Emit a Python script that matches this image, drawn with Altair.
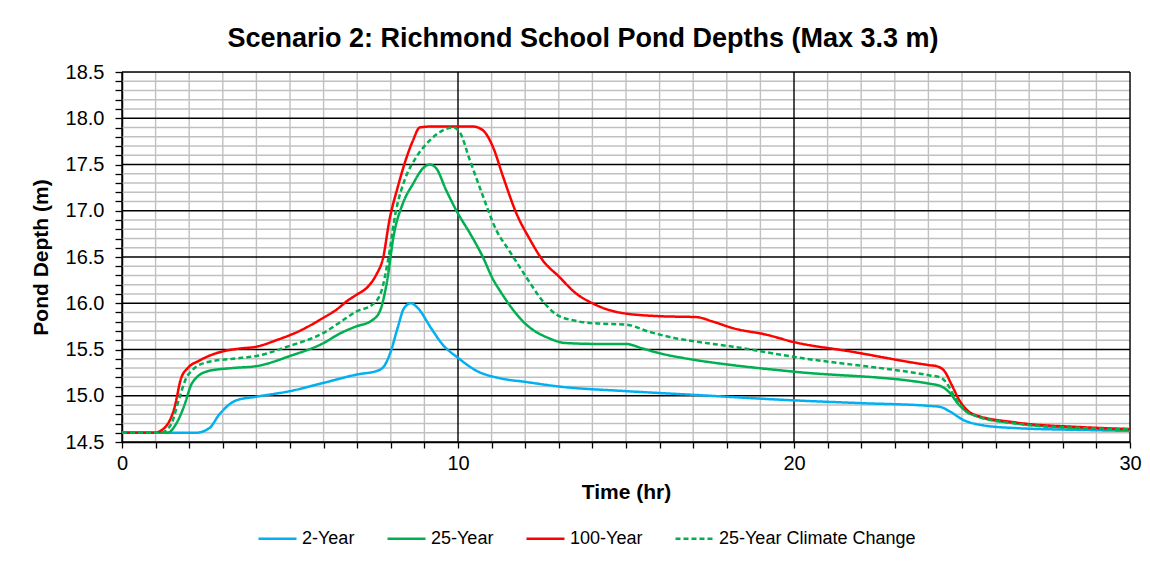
import altair as alt
import pandas as pd

# ---- data ----
two_x = [0, 2.2, 2.6, 2.9, 3.4, 4.0, 5.0, 6.0, 7.0, 7.6, 7.8, 8.0, 8.2, 8.4, 8.6, 8.8, 9.2, 9.55, 10.0, 10.55,
         11.24, 12, 13, 15, 17, 20, 22, 24.04, 24.34, 24.64, 25.03, 25.63, 26.62, 28.6, 30]
two_y = [14.6, 14.6, 14.65, 14.8, 14.95, 14.99, 15.05, 15.14, 15.23, 15.27, 15.32, 15.48, 15.73, 15.95, 16.0,
         15.95, 15.73, 15.55, 15.41, 15.27, 15.19, 15.15, 15.1, 15.05, 15.01, 14.95, 14.92, 14.89, 14.88,
         14.83, 14.74, 14.68, 14.65, 14.63, 14.62]

g_x = [0, 1.36, 1.6, 1.86, 2.06, 2.2, 2.6, 3.3, 4.0, 5.0, 6.0, 6.47, 6.97, 7.42, 7.67, 7.87, 8.1, 8.36, 8.66,
       8.96, 9.16, 9.35, 9.65, 10.0, 10.35, 10.74, 11.04, 11.24, 12.0, 12.72, 13.2, 14.2, 15.0, 15.5, 16.0,
       17.0, 18.2, 20.0, 24.04, 24.39, 24.64, 24.89, 25.13, 25.43, 26.62, 28.6, 30]
g_y = [14.6, 14.6, 14.69, 14.9, 15.12, 15.19, 15.27, 15.3, 15.32, 15.43, 15.57, 15.67, 15.75, 15.81, 15.91,
       16.2, 16.76, 17.08, 17.29, 17.46, 17.5, 17.46, 17.22, 16.97, 16.76, 16.5, 16.26, 16.14, 15.78, 15.62,
       15.57, 15.56, 15.56, 15.51, 15.46, 15.39, 15.33, 15.26, 15.13, 15.1, 15.03, 14.91, 14.83, 14.78,
       14.7, 14.65, 14.63]

r_x = [0, 0.96, 1.31, 1.56, 1.76, 1.96, 2.3, 3.0, 3.5, 4.0, 4.59, 5.28, 5.98, 6.38, 6.72, 6.97, 7.32, 7.57,
       7.77, 7.96, 8.21, 8.41, 8.66, 8.86, 9.16, 10.0, 10.45, 10.74, 11.04, 11.34, 11.74, 12.14, 12.53,
       13.0, 13.5, 14.0, 14.8, 16.0, 17.1, 17.6, 18.19, 19.18, 20.0, 21.66, 24.04, 24.24, 24.49, 24.69,
       24.94, 25.34, 26.62, 28.6, 30]
r_y = [14.6, 14.6, 14.67, 14.87, 15.19, 15.3, 15.38, 15.48, 15.51, 15.53, 15.6, 15.7, 15.84, 15.93, 16.03,
       16.09, 16.18, 16.31, 16.49, 16.9, 17.26, 17.51, 17.76, 17.9, 17.91, 17.91, 17.91, 17.87, 17.69,
       17.37, 16.97, 16.69, 16.46, 16.29, 16.11, 16.0, 15.9, 15.86, 15.85, 15.8, 15.73, 15.66, 15.58,
       15.48, 15.33, 15.32, 15.26, 15.12, 14.94, 14.8, 14.71, 14.66, 14.64]

c_x = [0, 1.16, 1.46, 1.71, 1.91, 2.1, 2.5, 3.3, 4.0, 5.0, 6.0, 6.47, 6.97, 7.47, 7.72, 7.91, 8.16, 8.41,
       8.76, 9.16, 9.55, 9.85, 10.05, 10.35, 10.7, 11.14, 11.54, 12.0, 12.53, 12.92, 13.5, 14.2, 15.0,
       15.7, 16.5, 17.19, 18.19, 20.0, 24.04, 24.34, 24.54, 24.79, 25.13, 25.43, 26.62, 28.6, 30]
c_y = [14.6, 14.6, 14.69, 14.98, 15.19, 15.28, 15.36, 15.4, 15.43, 15.54, 15.68, 15.79, 15.91, 15.99, 16.13,
       16.45, 17.01, 17.33, 17.58, 17.76, 17.87, 17.9, 17.85, 17.55, 17.2, 16.79, 16.56, 16.3, 16.02,
       15.88, 15.81, 15.78, 15.77, 15.69, 15.62, 15.58, 15.53, 15.42, 15.22, 15.2, 15.14, 14.98, 14.83,
       14.78, 14.7, 14.65, 14.64]

series_names = ["2-Year", "25-Year", "100-Year", "25-Year Climate Change"]
series_colors = ["#00B0F0", "#00B050", "#FF0000", "#00B050"]
series_dash = [[1, 0], [1, 0], [1, 0], [5, 3]]

x_ticks = list(range(0, 31))
x_major = [0, 10, 20, 30]
x_minor = [v for v in range(1, 30) if v not in x_major]
y_ticks = [round(14.5 + 0.1 * i, 1) for i in range(41)]
y_major = [14.5, 15.0, 15.5, 16.0, 16.5, 17.0, 17.5, 18.0, 18.5]
y_minor = [v for v in y_ticks if v not in y_major]

rows = []
for name, xs, ys in zip(series_names, [two_x, g_x, r_x, c_x], [two_y, g_y, r_y, c_y]):
    for xv, yv in zip(xs, ys):
        rows.append({"Series": name, "Time": xv, "Depth": yv})
df = pd.DataFrame(rows)

FONT = "Liberation Sans"
GRID_GRAY = "#c0c0c0"

xscale = alt.Scale(domain=[0, 30], nice=False, zero=False)
yscale = alt.Scale(domain=[14.5, 18.5], nice=False, zero=False)

x_axis = alt.Axis(title="Time (hr)", values=x_ticks,
                  labelExpr="datum.value % 10 === 0 ? datum.label : ''",
                  grid=False,
                  tickSize=6, tickColor="#000000", tickWidth=1.3,
                  domainColor="#000000", domainWidth=1.5,
                  labelFont=FONT, labelFontSize=20, labelColor="#000000", labelPadding=5,
                  titleFont=FONT, titleFontSize=21, titleFontWeight="bold", titleColor="#000000",
                  titlePadding=8, labelFlush=False)
y_axis = alt.Axis(title="Pond Depth (m)", values=y_ticks,
                  labelExpr="abs(datum.value*2 - round(datum.value*2)) < 0.001 ? format(datum.value, '.1f') : ''",
                  grid=False,
                  tickSize=7, tickColor="#000000", tickWidth=1.3,
                  domainColor="#000000", domainWidth=1.5,
                  labelFont=FONT, labelFontSize=20, labelColor="#000000", labelPadding=11,
                  titleFont=FONT, titleFontSize=21, titleFontWeight="bold", titleColor="#000000",
                  titlePadding=14, labelFlush=False)

minor_v = alt.Chart(pd.DataFrame({"Time": x_minor})).mark_rule(color=GRID_GRAY, strokeWidth=1.4).encode(
    x=alt.X("Time:Q", scale=xscale, axis=x_axis))
minor_h = alt.Chart(pd.DataFrame({"Depth": y_minor})).mark_rule(color=GRID_GRAY, strokeWidth=1.4).encode(
    y=alt.Y("Depth:Q", scale=yscale, axis=y_axis))
major_v = alt.Chart(pd.DataFrame({"Time": x_major})).mark_rule(color="#000000", strokeWidth=1.4).encode(
    x=alt.X("Time:Q", scale=xscale, axis=x_axis))
major_h = alt.Chart(pd.DataFrame({"Depth": y_major})).mark_rule(color="#000000", strokeWidth=1.4).encode(
    y=alt.Y("Depth:Q", scale=yscale, axis=y_axis))

lines = alt.Chart(df).mark_line(strokeWidth=2.5, interpolate="monotone").encode(
    x=alt.X("Time:Q", scale=xscale, axis=x_axis),
    y=alt.Y("Depth:Q", scale=yscale, axis=y_axis),
    color=alt.Color("Series:N",
                    scale=alt.Scale(domain=series_names, range=series_colors),
                    legend=alt.Legend(title=None, orient="none", legendX=135, legendY=446,
                                      direction="horizontal", symbolType="stroke",
                                      symbolStrokeWidth=2.5, symbolSize=1444,
                                      labelFont=FONT, labelFontSize=18, labelColor="#000000",
                                      labelLimit=0, columnPadding=27, labelOffset=4)),
    strokeDash=alt.StrokeDash("Series:N",
                              scale=alt.Scale(domain=series_names, range=series_dash),
                              legend=None),
    order=alt.Order("Time:Q"),
)

chart = alt.layer(minor_v, minor_h, major_v, major_h, lines).properties(
    width=1008,
    height=370,
    title=alt.TitleParams("Scenario 2: Richmond School Pond Depths (Max 3.3 m)",
                          font=FONT, fontSize=27, fontWeight="bold", color="#000000",
                          anchor="middle", dx=-43, offset=9),
    autosize=alt.AutoSizeParams(type="none"),
    padding={"left": 122, "top": 72, "right": 20, "bottom": 119},
).configure_view(
    stroke="#000000", strokeWidth=1.5
).configure(background="white")

chart.save("out.html", embed_options={"renderer": "svg", "actions": False})
